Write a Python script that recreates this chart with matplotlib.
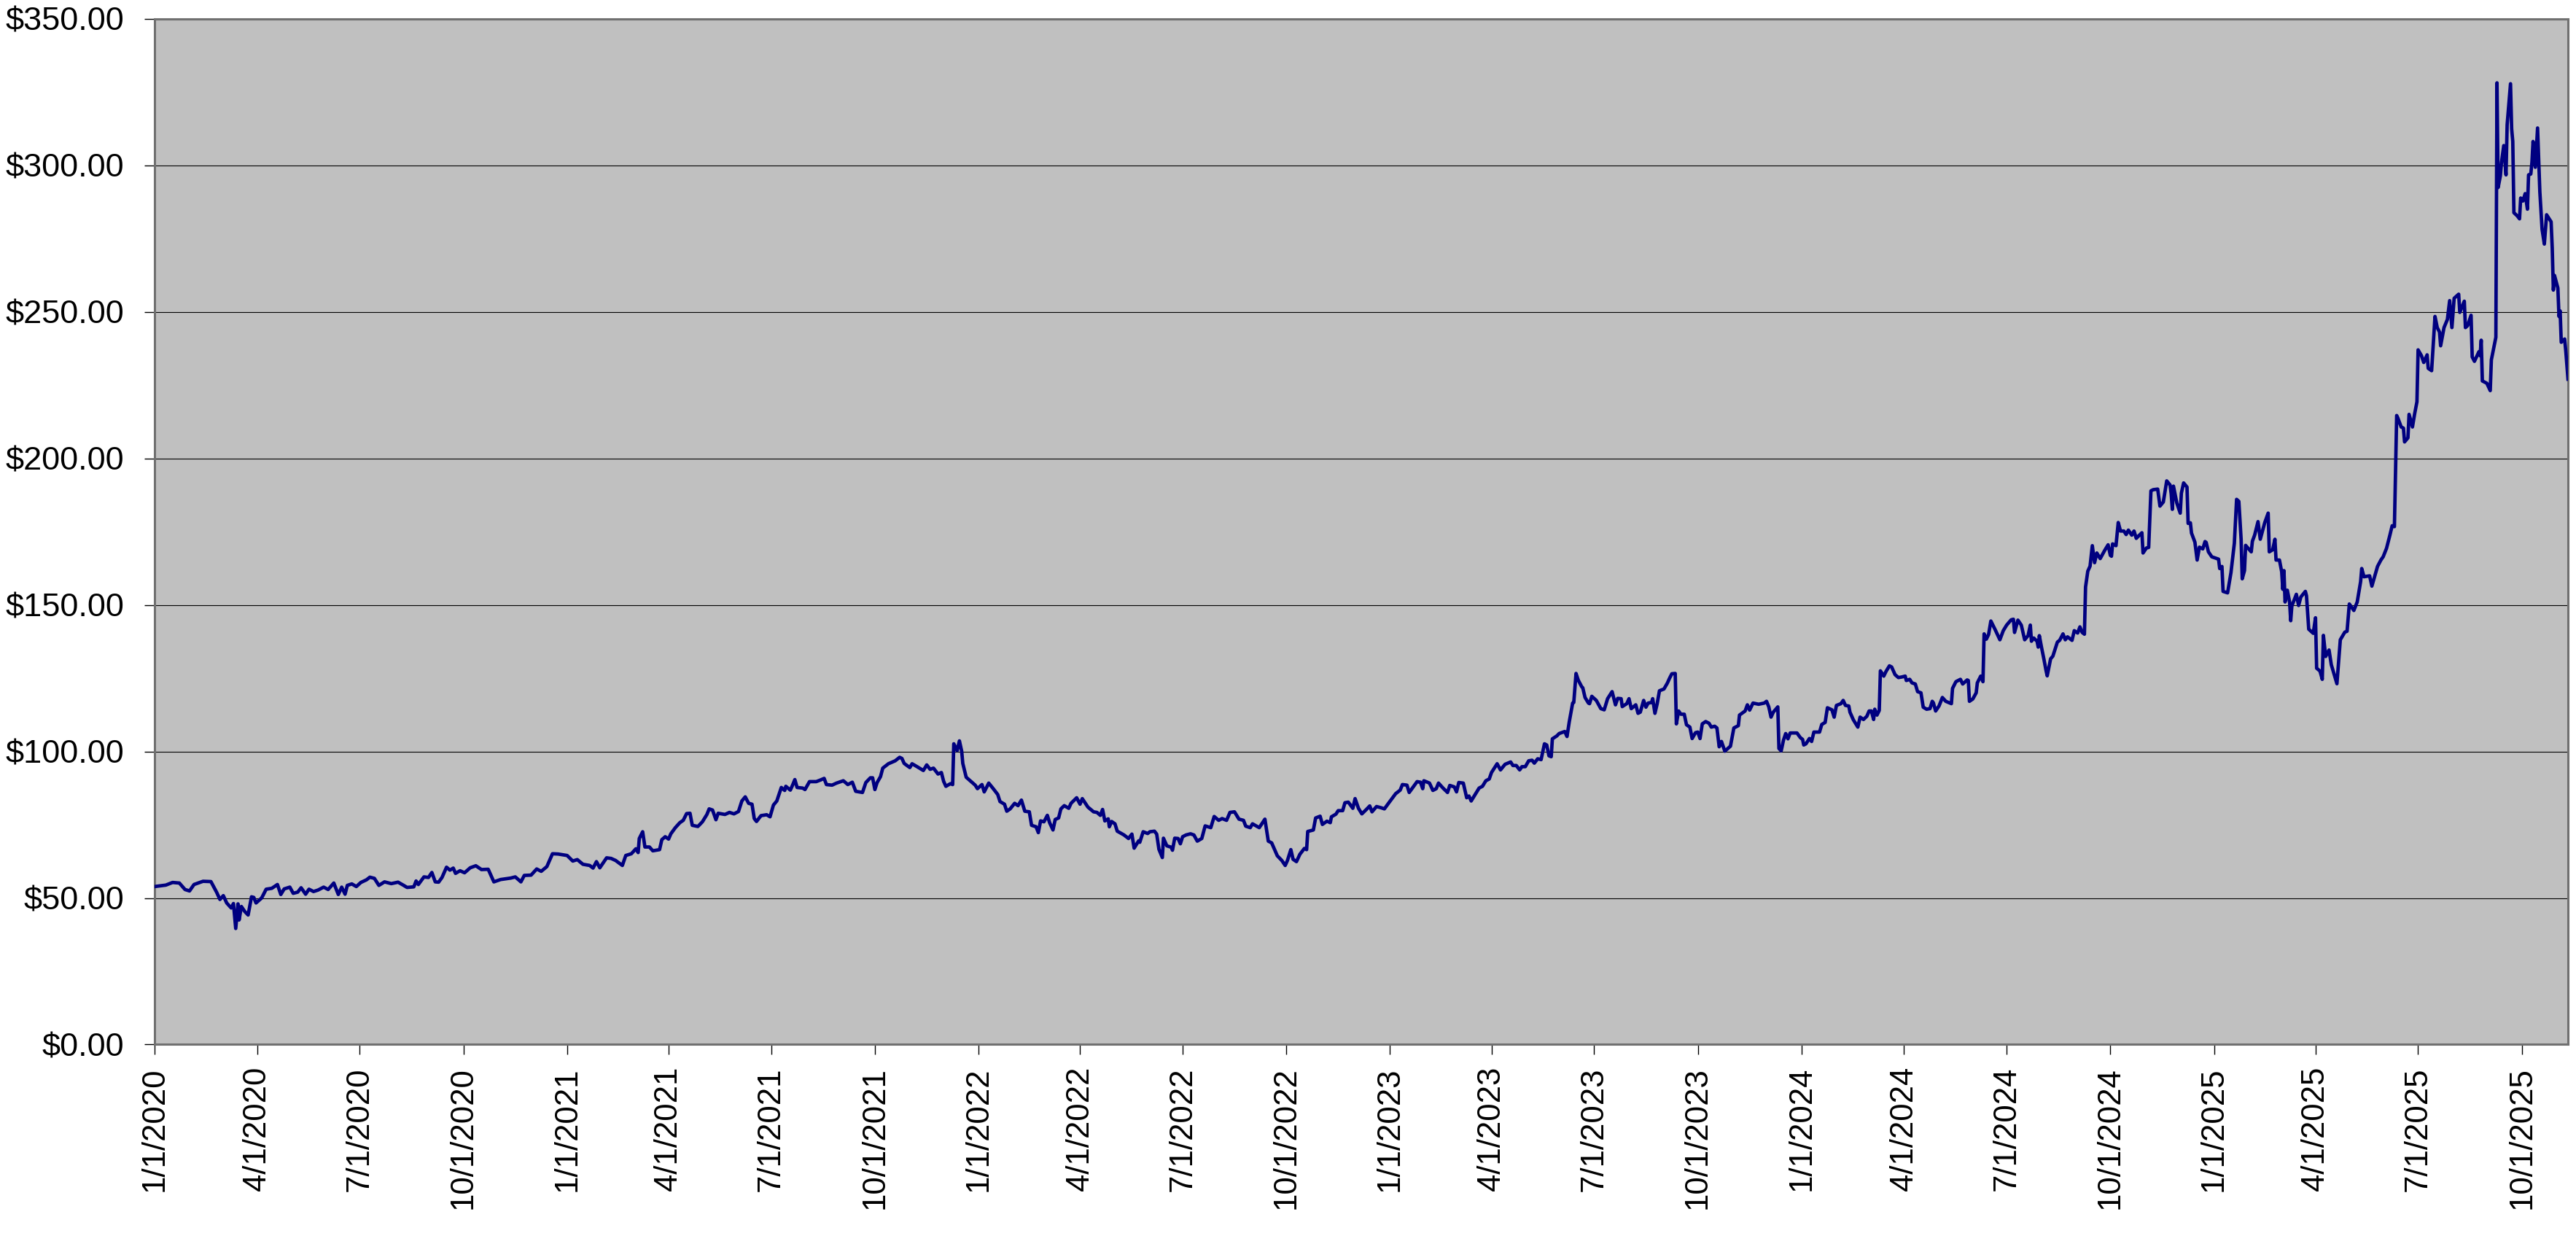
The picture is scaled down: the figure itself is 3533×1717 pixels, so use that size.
import numpy as np
import pandas as pd
import matplotlib
matplotlib.use("Agg")
import matplotlib.pyplot as plt
import matplotlib.dates as mdates
from matplotlib.ticker import FuncFormatter, MultipleLocator

plt.rcParams['font.family'] = ['Liberation Sans', 'DejaVu Sans']

# price readings: day offset from 1/1/2020 and closing price
start = pd.Timestamp("2020-01-01")

days = [
    # 2020
    0, 10, 16, 22, 27, 31, 35, 43, 50, 55, 58, 61, 64, 68, 70, 72, 74, 75, 77, 80,
    83, 86, 88, 90, 95, 99, 104, 109, 112, 115, 120, 123, 127, 130, 134, 137, 141, 145, 150, 154,
    159, 163, 166, 169, 171, 175, 179, 183, 188, 191, 195, 199, 204, 210, 216, 221, 224, 230, 232, 234,
    239, 243, 246, 249, 252, 255, 259, 262, 265, 267, 271, 275, 280, 285, 290, 296, 301, 307, 316, 320,
    325, 328, 334, 339, 343, 348, 353, 358,
    # 2021
    366, 371, 375, 380, 386, 389, 392, 395, 401, 405, 409, 415, 418, 423, 427, 429, 430, 433, 435, 439,
    442, 448, 450, 453, 456, 458, 462, 466, 469, 472, 475, 477, 482, 486, 490, 492, 495, 498, 500, 506,
    510, 514, 518, 521, 524, 527, 530, 532, 534, 538, 543, 546, 549, 552, 556, 559, 560, 564, 566, 568,
    570, 575, 577, 581, 587, 591, 594, 596, 601, 605, 611, 615, 619, 622, 628, 631, 635, 637, 639, 641,
    644, 646, 651, 657, 661, 663, 665, 670, 672, 676, 682, 685, 688, 691, 695, 698, 700, 702, 706, 708,
    709, 712, 714, 716, 717, 720, 725, 728,
    # 2022
    730, 734, 736, 740, 744, 748, 750, 754, 756, 759, 763, 766, 769, 772, 776, 778, 782, 784, 786, 789,
    792, 794, 797, 799, 802, 804, 807, 811, 813, 818, 821, 823, 828, 833, 836, 839, 841, 843, 846, 847,
    849, 852, 854, 860, 864, 867, 869, 873, 874, 877, 881, 883, 887, 889, 891, 894, 895, 898, 902, 903,
    905, 908, 910, 912, 915, 919, 922, 925, 929, 932, 937, 940, 944, 947, 951, 954, 958, 962, 966, 968,
    972, 974, 980, 985, 988, 991, 996, 1000, 1003, 1005, 1008, 1010, 1013, 1016, 1020, 1022, 1023, 1028, 1030, 1034,
    1036, 1040, 1043, 1044, 1048, 1050, 1054, 1056, 1059, 1063, 1065, 1068, 1071, 1075, 1078, 1080, 1084, 1088, 1091,
    # 2023
    1095, 1101, 1105, 1107, 1111, 1113, 1117, 1120, 1123, 1125, 1126, 1131, 1134, 1137, 1139, 1143, 1147, 1149, 1153, 1155,
    1157, 1161, 1164, 1166, 1168, 1172, 1175, 1178, 1181, 1184, 1186, 1191, 1194, 1198, 1203, 1205, 1208, 1211, 1213, 1216,
    1219, 1222, 1224, 1227, 1230, 1233, 1235, 1237, 1239, 1240, 1244, 1246, 1251, 1253, 1255, 1258, 1259, 1261, 1263, 1266,
    1267, 1269, 1272, 1273, 1275, 1279, 1283, 1286, 1289, 1291, 1293, 1296, 1298, 1301, 1302, 1306, 1308, 1310, 1314, 1316,
    1318, 1321, 1323, 1325, 1328, 1329, 1331, 1333, 1335, 1339, 1342, 1344, 1346, 1349, 1350, 1352, 1354, 1357, 1359, 1362,
    1364, 1367, 1369, 1371, 1373, 1376, 1379, 1381, 1384, 1386, 1388, 1390, 1393, 1396, 1398, 1401, 1405, 1406, 1411, 1413,
    1415, 1418, 1423, 1428, 1430, 1432, 1434, 1436, 1440, 1441, 1443, 1445, 1447, 1449, 1451, 1457,
    # 2024
    1460, 1462, 1463, 1465, 1468, 1470, 1472, 1477, 1479, 1482, 1484, 1488, 1490, 1492, 1496, 1498, 1500, 1503, 1504, 1507,
    1511, 1513, 1516, 1519, 1521, 1523, 1525, 1526, 1528, 1530, 1531, 1534, 1536, 1539, 1541, 1544, 1547, 1550, 1553, 1554,
    1557, 1559, 1562, 1564, 1567, 1569, 1572, 1575, 1577, 1578, 1580, 1583, 1586, 1589, 1594, 1595, 1598, 1602, 1604, 1608,
    1609, 1610, 1613, 1616, 1617, 1620, 1622, 1623, 1625, 1627, 1629, 1633, 1637, 1640, 1643, 1647, 1649, 1650, 1653, 1656,
    1659, 1662, 1664, 1665, 1667, 1670, 1671, 1672, 1674, 1676, 1678, 1679, 1682, 1684, 1688, 1690, 1693, 1695, 1697, 1701,
    1703, 1706, 1708, 1710, 1712, 1713, 1715, 1717, 1719, 1721, 1723, 1726, 1730, 1733, 1735, 1736, 1737, 1740, 1742, 1744,
    1747, 1749, 1751, 1754, 1756, 1758, 1760, 1763, 1764, 1767, 1769, 1771, 1773, 1777, 1779, 1782, 1785, 1788, 1789, 1790,
    1791, 1794, 1797, 1798, 1800, 1803, 1804, 1806, 1807, 1810, 1812, 1814, 1817, 1819, 1820, 1822,
    # 2025
    1825, 1831, 1832, 1834, 1835, 1839, 1842, 1845, 1847, 1849, 1851, 1852, 1854, 1855, 1860, 1861, 1863, 1866, 1868, 1872,
    1875, 1876, 1879, 1881, 1882, 1885, 1887, 1888, 1889, 1890, 1892, 1894, 1895, 1896, 1900, 1902, 1904, 1908, 1909, 1911,
    1915, 1917, 1918, 1921, 1923, 1924, 1926, 1929, 1931, 1936, 1939, 1943, 1945, 1947, 1951, 1954, 1957, 1958, 1960, 1965,
    1967, 1972, 1975, 1977, 1980, 1983, 1985, 1987, 1989, 1990, 1993, 1995, 1996, 1999, 2000, 2003, 2005, 2007, 2008, 2011,
    2013, 2016, 2017, 2020, 2023, 2025, 2027, 2028, 2031, 2034, 2036, 2038, 2040, 2044, 2045, 2049, 2050, 2052, 2055, 2056,
    2058, 2062, 2063, 2064, 2065, 2069, 2072, 2073, 2077, 2078, 2079, 2081, 2082, 2084, 2086, 2087, 2090, 2091, 2092, 2093,
    2096, 2098, 2099, 2101, 2103, 2105, 2106, 2108, 2109, 2110, 2112, 2114, 2116, 2118, 2120, 2122, 2126, 2127, 2128, 2129,
    2132, 2133, 2134, 2135, 2138, 2139, 2141,
]

prices = [
    # 2020
    53.9, 54.4, 55.3, 55.1, 52.9, 52.4, 54.6, 55.7, 55.6, 52.0, 49.5, 50.8, 48.3, 46.6, 48.1, 39.6, 48.0, 42.5, 47.1, 45.4,
    44.2, 50.4, 50.2, 48.3, 50.0, 53.0, 53.3, 54.6, 51.2, 53.1, 53.7, 51.6, 52.0, 53.5, 51.3, 53.0, 52.2, 52.7, 53.7, 52.9,
    55.1, 51.2, 53.7, 51.3, 54.3, 54.8, 53.9, 55.3, 56.2, 57.1, 56.7, 54.3, 55.5, 54.9, 55.4, 54.3, 53.6, 53.8, 55.8, 54.6,
    57.2, 57.0, 58.7, 55.5, 55.4, 57.0, 60.5, 59.5, 60.2, 58.4, 59.3, 58.6, 60.3, 61.0, 59.7, 59.8, 55.5, 56.3, 56.8, 57.2,
    55.5, 57.7, 57.8, 59.9, 59.1, 60.7, 65.1, 65.0,
    # 2021
    64.5, 62.6, 63.1, 61.5, 61.1, 60.2, 62.4, 60.3, 63.7, 63.5, 62.8, 61.1, 64.5, 65.1, 66.8, 65.5, 70.3, 72.6, 67.4, 67.4,
    66.1, 66.5, 69.9, 70.9, 70.1, 71.9, 74.0, 75.7, 76.5, 78.8, 78.9, 74.8, 74.4, 76.0, 78.5, 80.4, 80.0, 76.7, 78.9, 78.5,
    79.2, 78.7, 79.5, 83.1, 84.5, 82.3, 82.0, 77.1, 76.1, 78.1, 78.4, 77.7, 81.7, 83.1, 87.7, 86.7, 88.1, 86.8, 88.5, 90.4,
    87.7, 87.5, 87.0, 89.7, 89.7, 90.3, 90.8, 88.7, 88.5, 89.2, 90.0, 88.7, 89.5, 86.4, 86.0, 89.4, 91.0, 91.0, 87.0, 89.4,
    91.4, 94.3, 95.8, 96.8, 98.0, 97.6, 95.9, 94.5, 95.8, 94.9, 93.5, 95.4, 93.9, 94.3, 92.3, 92.8, 89.8, 88.1, 89.0, 88.7,
    102.6, 100.3, 103.6, 100.1, 95.9, 91.2, 89.5, 88.5,
    # 2022
    87.3, 88.7, 86.2, 89.2, 87.3, 85.3, 82.9, 82.0, 79.6, 80.4, 82.3, 81.5, 83.4, 79.6, 79.4, 74.8, 74.3, 72.3, 76.3, 76.0,
    78.2, 75.7, 73.2, 76.8, 77.3, 80.4, 81.5, 80.6, 82.3, 84.2, 82.0, 83.9, 81.0, 79.4, 79.2, 78.2, 80.2, 76.3, 77.0, 74.3,
    76.1, 75.3, 72.8, 71.5, 70.3, 71.8, 67.0, 69.5, 69.0, 72.6, 72.0, 72.6, 72.8, 71.8, 66.6, 63.8, 70.4, 67.8, 67.3, 66.3,
    70.4, 70.3, 68.5, 70.9, 71.5, 71.9, 71.5, 69.4, 70.3, 74.6, 74.0, 77.8, 76.5, 77.1, 76.5, 79.2, 79.4, 76.9, 76.5, 74.5,
    74.0, 75.3, 74.0, 76.9, 69.4, 68.8, 64.4, 62.8, 61.1, 62.8, 66.5, 63.2, 62.4, 64.9, 66.9, 66.5, 72.7, 73.2, 77.3, 77.9,
    75.1, 76.2, 75.7, 77.7, 78.6, 79.8, 79.8, 82.5, 82.7, 80.6, 83.9, 80.6, 78.7, 80.2, 81.4, 79.4, 81.2, 80.8, 80.4,
    # 2023
    82.5, 85.6, 86.8, 88.7, 88.5, 86.0, 88.1, 89.7, 89.5, 87.3, 90.0, 89.2, 86.7, 87.3, 89.2, 87.5, 86.0, 88.4, 87.9, 86.2,
    89.4, 89.2, 84.2, 84.8, 83.1, 85.6, 87.5, 88.1, 90.0, 90.6, 92.8, 95.8, 93.7, 95.6, 96.4, 95.2, 95.2, 93.7, 94.8, 94.8,
    96.8, 97.0, 96.0, 97.5, 97.2, 102.6, 102.2, 98.5, 98.2, 104.3, 105.3, 106.1, 106.8, 105.1, 110.1, 116.5, 116.7, 126.6, 124.3, 122.1,
    121.7, 118.4, 116.5, 116.3, 118.8, 117.4, 114.6, 114.2, 118.0, 119.2, 120.4, 115.9, 118.1, 118.0, 115.3, 116.3, 118.0, 114.6, 115.9, 113.0,
    113.4, 117.4, 115.1, 116.5, 116.7, 118.0, 113.0, 116.3, 120.7, 121.3, 123.3, 125.0, 126.5, 126.6, 109.4, 113.8, 112.7, 112.7, 109.1, 108.3,
    104.4, 106.4, 106.6, 104.4, 109.4, 110.2, 109.6, 108.3, 108.6, 108.0, 101.6, 103.4, 100.1, 101.1, 101.8, 108.0, 108.8, 112.4, 113.8, 115.9,
    114.1, 116.5, 116.1, 116.5, 117.1, 115.2, 111.7, 113.4, 115.2, 101.0, 100.2, 103.8, 106.1, 104.3, 106.3, 106.3,
    # 2024
    104.7, 104.1, 102.2, 102.6, 104.4, 103.4, 106.6, 106.6, 109.2, 109.9, 114.9, 114.2, 111.7, 115.7, 116.3, 117.4, 115.7, 115.5, 113.4, 110.8,
    108.3, 111.7, 110.9, 112.0, 113.8, 113.8, 110.9, 114.4, 112.4, 114.0, 127.5, 125.7, 127.3, 129.2, 128.8, 126.2, 125.2, 125.4, 125.7, 124.2,
    124.6, 123.4, 123.0, 120.4, 120.0, 115.1, 114.4, 114.6, 117.1, 116.6, 113.8, 115.5, 118.4, 117.1, 116.3, 121.5, 123.8, 124.6, 123.0, 124.4,
    124.2, 117.1, 117.9, 120.0, 123.4, 125.7, 123.8, 140.1, 138.3, 139.9, 144.5, 141.4, 138.1, 141.2, 143.1, 144.9, 145.1, 140.6, 144.8, 143.1,
    138.1, 139.5, 143.1, 137.6, 138.7, 137.6, 135.6, 139.5, 135.4, 131.6, 127.5, 125.8, 131.6, 132.5, 137.3, 137.9, 140.1, 138.1, 139.1, 137.9,
    141.2, 140.4, 142.5, 140.6, 140.0, 156.1, 161.5, 163.2, 170.2, 164.4, 167.7, 165.8, 168.6, 170.5, 166.9, 166.6, 170.8, 170.2, 178.1, 175.2,
    175.2, 174.0, 175.5, 173.8, 175.2, 172.7, 173.5, 174.6, 167.7, 169.4, 169.6, 188.9, 189.3, 189.5, 183.7, 185.1, 192.3, 190.9, 187.8, 182.6,
    190.5, 184.7, 181.3, 188.1, 191.6, 190.2, 177.8, 178.0, 174.5, 171.4, 165.3, 169.7, 169.1, 171.6, 171.3, 168.1,
    # 2025
    166.4, 165.6, 162.4, 163.1, 154.6, 154.1, 161.0, 171.0, 186.0, 185.3, 172.4, 158.9, 161.7, 170.3, 168.1, 171.7, 173.8, 178.4, 172.4, 178.1,
    181.3, 168.1, 168.8, 172.4, 165.3, 165.3, 161.3, 155.3, 161.7, 151.0, 155.0, 151.0, 144.6, 149.6, 153.6, 149.8, 152.7, 154.6, 153.1, 141.7,
    140.3, 145.6, 128.4, 127.4, 124.6, 139.6, 132.4, 134.6, 129.6, 123.1, 138.1, 140.7, 141.0, 150.3, 148.1, 151.0, 157.9, 162.4, 159.6, 159.9,
    156.4, 163.1, 165.3, 166.4, 169.3, 173.8, 177.0, 176.7, 214.6, 213.8, 210.7, 210.3, 205.6, 207.0, 215.0, 210.7, 215.3, 219.3, 237.0, 235.0,
    232.7, 235.3, 230.7, 229.9, 248.4, 244.6, 243.1, 238.4, 244.6, 247.4, 253.8, 244.6, 254.6, 256.0, 249.8, 253.6, 244.6, 245.3, 248.8, 234.6,
    233.1, 236.4, 235.0, 240.3, 226.4, 225.6, 223.1, 233.6, 241.3, 328.1, 292.4, 296.4, 301.0, 306.7, 296.7, 313.8, 327.8, 312.4, 308.1, 283.8,
    282.7, 281.7, 288.8, 287.8, 290.3, 285.0, 296.7, 297.0, 301.0, 308.1, 299.3, 312.7, 291.0, 278.1, 273.1, 283.1, 280.7, 271.7, 257.4, 262.4,
    258.1, 248.4, 250.3, 239.6, 240.7, 236.7, 227.0,
]

dates = start + pd.to_timedelta(days, unit="D")

fig = plt.figure(figsize=(35.33, 17.17), dpi=100)
ax = fig.add_axes([0.0600, 0.1657, 0.9369, 0.8194])
ax.set_facecolor('#C0C0C0')

ax.plot(dates, prices, color='#000080', linewidth=3.4, zorder=3)

ax.set_ylim(0, 350)
ax.set_xlim(dates[0], dates[-1])
ax.yaxis.set_major_locator(MultipleLocator(50))
ax.yaxis.set_major_formatter(FuncFormatter(lambda v, p: "${:,.2f}".format(v)))

ax.xaxis.set_major_locator(mdates.MonthLocator(bymonth=(1, 4, 7, 10)))
ax.xaxis.set_major_formatter(FuncFormatter(
    lambda v, p: "{d.month}/{d.day}/{d.year}".format(d=mdates.num2date(v))))

ax.grid(axis='y', color='black', linewidth=0.8)
ax.set_axisbelow(True)

for s in ax.spines.values():
    s.set_color('#707070')
    s.set_linewidth(2.2)

ax.tick_params(axis='y', direction='out', length=10, width=1, color='black',
               labelsize=32.5, pad=20)
ax.tick_params(axis='x', direction='out', length=10, width=1, color='black',
               labelsize=31.5, pad=12, labelrotation=90)

fig.savefig("out.png", dpi=100, facecolor='white')
